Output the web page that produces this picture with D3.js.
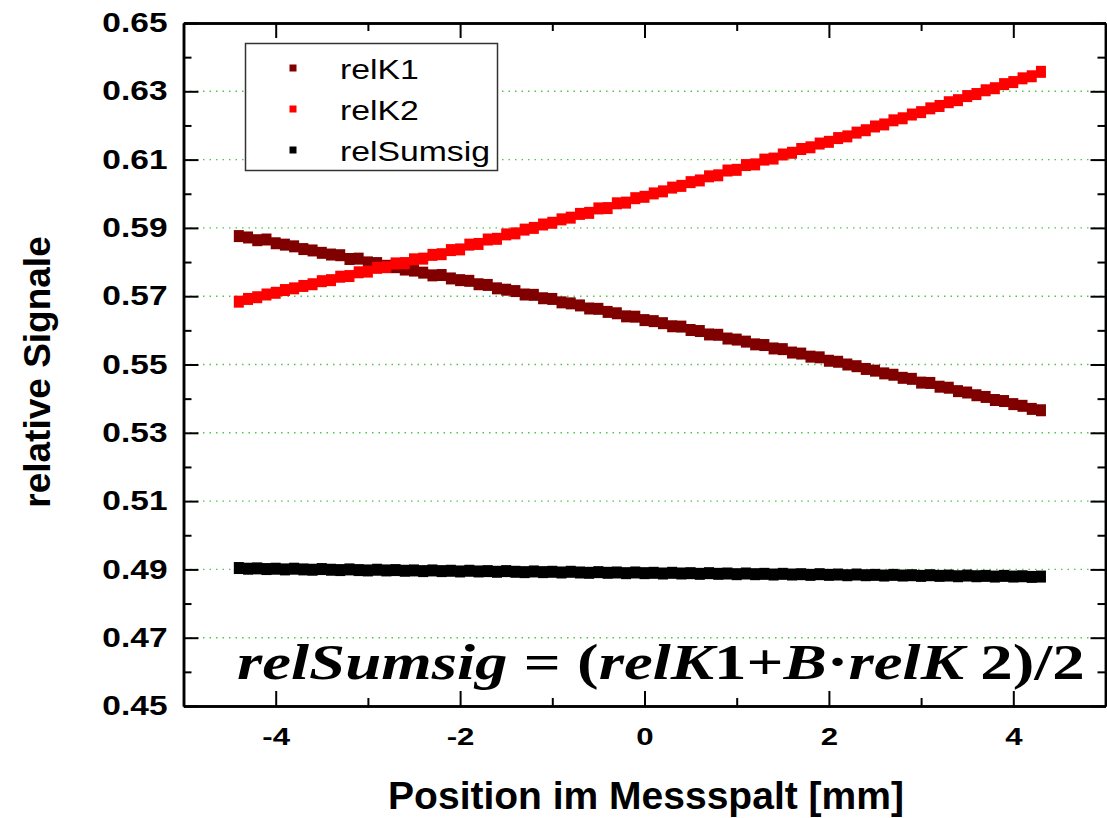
<!DOCTYPE html>
<html>
<head>
<meta charset="utf-8">
<script src="https://cdn.jsdelivr.net/npm/d3@7"></script>
<style>
    body { margin: 0; background: #fff; }
    svg { display: block; }
</style>
</head>
<body>
<svg id="chart" width="1107" height="818" font-family='Arial, "Liberation Sans", sans-serif'></svg>
<script>
var positions = [
    -4.4, -4.3, -4.2, -4.1, -4.0, -3.9, -3.8, -3.7, -3.6, -3.5, -3.4, -3.3, -3.2, -3.1, -3.0,
    -2.9, -2.8, -2.7, -2.6, -2.5, -2.4, -2.3, -2.2, -2.1, -2.0, -1.9, -1.8, -1.7, -1.6, -1.5,
    -1.4, -1.3, -1.2, -1.1, -1.0, -0.9, -0.8, -0.7, -0.6, -0.5, -0.4, -0.3, -0.2, -0.1, 0.0,
    0.1, 0.2, 0.3, 0.4, 0.5, 0.6, 0.7, 0.8, 0.9, 1.0, 1.1, 1.2, 1.3, 1.4, 1.5,
    1.6, 1.7, 1.8, 1.9, 2.0, 2.1, 2.2, 2.3, 2.4, 2.5, 2.6, 2.7, 2.8, 2.9, 3.0,
    3.1, 3.2, 3.3, 3.4, 3.5, 3.6, 3.7, 3.8, 3.9, 4.0, 4.1, 4.2, 4.3
];

var relK1 = [
    0.5876, 0.5872, 0.5864, 0.5866, 0.5855, 0.5851, 0.5846, 0.5838, 0.5834, 0.5827, 0.5822, 0.5820, 0.5809, 0.5810, 0.5799,
    0.5797, 0.5789, 0.5785, 0.5778, 0.5775, 0.5769, 0.5761, 0.5762, 0.5752, 0.5747, 0.5745, 0.5735, 0.5733, 0.5723, 0.5719,
    0.5715, 0.5705, 0.5704, 0.5694, 0.5692, 0.5682, 0.5679, 0.5673, 0.5664, 0.5663, 0.5654, 0.5650, 0.5641, 0.5640, 0.5630,
    0.5627, 0.5621, 0.5612, 0.5611, 0.5601, 0.5598, 0.5588, 0.5587, 0.5576, 0.5573, 0.5567, 0.5559, 0.5557, 0.5547, 0.5545,
    0.5535, 0.5532, 0.5523, 0.5521, 0.5511, 0.5508, 0.5500, 0.5495, 0.5487, 0.5482, 0.5474, 0.5470, 0.5461, 0.5458, 0.5447,
    0.5446, 0.5435, 0.5432, 0.5422, 0.5418, 0.5410, 0.5405, 0.5396, 0.5393, 0.5384, 0.5379, 0.5370, 0.5366
];

var relK2 = [
    0.5684, 0.5692, 0.5697, 0.5705, 0.5710, 0.5718, 0.5723, 0.5730, 0.5735, 0.5744, 0.5747, 0.5757, 0.5759, 0.5770, 0.5772,
    0.5783, 0.5785, 0.5796, 0.5797, 0.5808, 0.5810, 0.5821, 0.5823, 0.5835, 0.5837, 0.5851, 0.5853, 0.5866, 0.5868, 0.5881,
    0.5884, 0.5895, 0.5900, 0.5910, 0.5915, 0.5925, 0.5930, 0.5941, 0.5944, 0.5957, 0.5958, 0.5972, 0.5974, 0.5987, 0.5991,
    0.6001, 0.6007, 0.6018, 0.6023, 0.6034, 0.6039, 0.6051, 0.6054, 0.6068, 0.6070, 0.6084, 0.6086, 0.6100, 0.6103, 0.6115,
    0.6120, 0.6131, 0.6136, 0.6147, 0.6152, 0.6163, 0.6168, 0.6179, 0.6186, 0.6197, 0.6203, 0.6215, 0.6221, 0.6232, 0.6239,
    0.6250, 0.6257, 0.6268, 0.6274, 0.6286, 0.6292, 0.6303, 0.6309, 0.6321, 0.6327, 0.6338, 0.6344, 0.6357
];

var relSumsig = [
    0.4904, 0.4902, 0.4903, 0.4901, 0.4902, 0.4900, 0.4902, 0.4900, 0.4899, 0.4901, 0.4899, 0.4898, 0.4900, 0.4898, 0.4897,
    0.4899, 0.4897, 0.4898, 0.4896, 0.4897, 0.4895, 0.4897, 0.4895, 0.4896, 0.4894, 0.4896, 0.4894, 0.4895, 0.4893, 0.4895,
    0.4893, 0.4892, 0.4894, 0.4892, 0.4893, 0.4891, 0.4893, 0.4891, 0.4890, 0.4892, 0.4890, 0.4891, 0.4889, 0.4891, 0.4889,
    0.4890, 0.4888, 0.4890, 0.4888, 0.4889, 0.4887, 0.4889, 0.4887, 0.4888, 0.4886, 0.4888, 0.4886, 0.4887, 0.4885, 0.4887,
    0.4885, 0.4886, 0.4884, 0.4886, 0.4884, 0.4885, 0.4883, 0.4885, 0.4883, 0.4884, 0.4882, 0.4884, 0.4882, 0.4883, 0.4881,
    0.4883, 0.4881, 0.4882, 0.4880, 0.4882, 0.4880, 0.4881, 0.4879, 0.4881, 0.4879, 0.4880, 0.4878, 0.4879
];

var seriesNames = ['relK1', 'relK2', 'relSumsig'];
var seriesColors = ['#800000', '#ff0000', '#000000'];

var xMajorTicks = [-4, -2, 0, 2, 4];
var xMinorTicks = [-3, -1, 1, 3];
var yMajorTicks = [0.45, 0.47, 0.49, 0.51, 0.53, 0.55, 0.57, 0.59, 0.61, 0.63, 0.65];
var yMinorTicks = [0.46, 0.48, 0.50, 0.52, 0.54, 0.56, 0.58, 0.60, 0.62, 0.64];
var gridValues = [0.47, 0.49, 0.51, 0.53, 0.55, 0.57, 0.59, 0.61, 0.63];

var xTitle = 'Position im Messspalt [mm]';
var yTitle = 'relative Signale';

var plotLeft = 183.5, plotRight = 1105.5, plotTop = 23, plotBottom = 706,
    markWidth = 10,
    markHeight = 12,
    labelStretch = 1.25;

var x = d3.scaleLinear().domain([-5, 5]).range([plotLeft, plotRight]);
var y = d3.scaleLinear().domain([0.45, 0.65]).range([plotBottom, plotTop]);

var svg = d3.select('#chart');

// dotted green grid on the labelled y ticks
svg.append('g')
    .selectAll('line')
    .data(gridValues)
    .join('line')
        .attr('x1', plotLeft)
        .attr('x2', plotRight)
        .attr('y1', function(d) { return y(d); })
        .attr('y2', function(d) { return y(d); })
        .attr('stroke', '#4cc84c')
        .attr('stroke-width', 1.4)
        .attr('stroke-dasharray', '1.5,5');

function drawSeries(values, color) {
    svg.append('g')
        .selectAll('rect')
        .data(values)
        .join('rect')
            .attr('x', function(d, i) { return x(positions[i]) - markWidth / 2; })
            .attr('y', function(d) { return y(d) - markHeight / 2; })
            .attr('width', markWidth)
            .attr('height', markHeight)
            .attr('fill', color);
}

drawSeries(relSumsig, seriesColors[2]);
drawSeries(relK1, seriesColors[0]);
drawSeries(relK2, seriesColors[1]);

// legend
var legend = svg.append('g');
legend.append('rect')
    .attr('x', 245.5)
    .attr('y', 43.5)
    .attr('width', 252)
    .attr('height', 127)
    .attr('fill', '#fff')
    .attr('stroke', '#333')
    .attr('stroke-width', 1.5);

var legendRows = legend.selectAll('g.row')
    .data(seriesNames)
    .join('g')
        .attr('class', 'row')
        .attr('transform', function(d, i) { return 'translate(293,' + (68 + i * 41) + ')'; });

legendRows.append('rect')
    .attr('x', -3.5)
    .attr('y', -3.5)
    .attr('width', 7)
    .attr('height', 7)
    .attr('fill', function(d, i) { return seriesColors[i]; });

legendRows.append('text')
    .attr('x', 47 / labelStretch)
    .attr('dy', '0.4em')
    .attr('font-size', 27)
    .attr('transform', 'scale(' + labelStretch + ',1)')
    .text(function(d) { return d; });

// axes, ticks pointing inwards
function styleAxis(g) {
    g.select('.domain').attr('stroke', '#000').attr('stroke-width', 2.5);
    g.selectAll('.tick line').attr('stroke', '#000').attr('stroke-width', 2);
}

function noLabel() { return ''; }

var bottomAxis = svg.append('g').attr('transform', 'translate(0,' + plotBottom + ')');
bottomAxis.call(d3.axisBottom(x).tickValues(xMajorTicks).tickSize(-15).tickSizeOuter(0)
    .tickPadding(22).tickFormat(function(d) { return String(d); }));
bottomAxis.attr('font-size', 24).attr('font-weight', 'bold').attr('font-family', 'Arial, "Liberation Sans", sans-serif');
bottomAxis.selectAll('.tick text').attr('fill', '#000').attr('transform', 'scale(1.3,1)');
styleAxis(bottomAxis);
svg.append('g').attr('transform', 'translate(0,' + plotBottom + ')')
    .call(d3.axisBottom(x).tickValues(xMinorTicks).tickSize(-8).tickSizeOuter(0).tickFormat(noLabel))
    .call(styleAxis);

svg.append('g').attr('transform', 'translate(0,' + plotTop + ')')
    .call(d3.axisTop(x).tickValues(xMajorTicks).tickSize(-15).tickSizeOuter(0).tickFormat(noLabel))
    .call(styleAxis);
svg.append('g').attr('transform', 'translate(0,' + plotTop + ')')
    .call(d3.axisTop(x).tickValues(xMinorTicks).tickSize(-8).tickSizeOuter(0).tickFormat(noLabel))
    .call(styleAxis);

var leftAxis = svg.append('g').attr('transform', 'translate(' + plotLeft + ',0)');
leftAxis.call(d3.axisLeft(y).tickValues(yMajorTicks).tickSize(-15).tickSizeOuter(0)
    .tickPadding(16).tickFormat(d3.format('.2f')));
leftAxis.attr('font-size', 27).attr('font-weight', 'bold').attr('font-family', 'Arial, "Liberation Sans", sans-serif');
leftAxis.selectAll('.tick text')
    .attr('fill', '#000')
    .attr('x', -16 / 1.24)
    .attr('transform', 'scale(1.24,1)');
styleAxis(leftAxis);
svg.append('g').attr('transform', 'translate(' + plotLeft + ',0)')
    .call(d3.axisLeft(y).tickValues(yMinorTicks).tickSize(-8).tickSizeOuter(0).tickFormat(noLabel))
    .call(styleAxis);

svg.append('g').attr('transform', 'translate(' + plotRight + ',0)')
    .call(d3.axisRight(y).tickValues(yMajorTicks).tickSize(-15).tickSizeOuter(0).tickFormat(noLabel))
    .call(styleAxis);
svg.append('g').attr('transform', 'translate(' + plotRight + ',0)')
    .call(d3.axisRight(y).tickValues(yMinorTicks).tickSize(-8).tickSizeOuter(0).tickFormat(noLabel))
    .call(styleAxis);

// axis titles
svg.append('text')
    .attr('x', 646)
    .attr('y', 809)
    .attr('text-anchor', 'middle')
    .attr('font-size', 39)
    .attr('font-weight', 'bold')
    .text(xTitle);

svg.append('text')
    .attr('transform', 'translate(50,372) rotate(-90)')
    .attr('text-anchor', 'middle')
    .attr('font-size', 37)
    .attr('font-weight', 'bold')
    .text(yTitle);

// formula, stretched to its width in the plot
var eq = svg.append('text')
    .attr('font-family', '"Liberation Serif", "DejaVu Serif", serif')
    .attr('font-size', 50)
    .attr('font-weight', 'bold');
eq.append('tspan').attr('font-style', 'italic').text('relSumsig');
eq.append('tspan').text(' = (');
eq.append('tspan').attr('font-style', 'italic').text('relK');
eq.append('tspan').text('1+');
eq.append('tspan').attr('font-style', 'italic').text('B');
eq.append('tspan').text('\u00b7');
eq.append('tspan').attr('font-style', 'italic').text('relK');
eq.append('tspan').text(' 2)/2');
var eqBox = eq.node().getBBox();
var eqScale = 848 / eqBox.width;
eq.attr('transform', 'translate(' + (237 - eqBox.x * eqScale) + ',679) scale(' + eqScale + ',1)');
</script>
</body>
</html>
